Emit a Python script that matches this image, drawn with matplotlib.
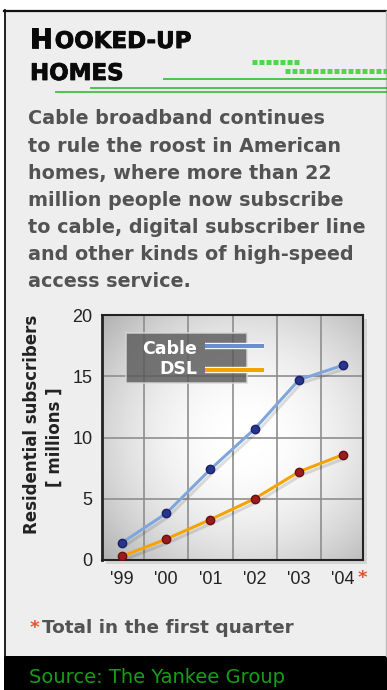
import numpy as np
import matplotlib
matplotlib.use("Agg")
import matplotlib.pyplot as plt
from matplotlib.patches import Rectangle
import matplotlib.patheffects as pe

years = ["'99", "'00", "'01", "'02", "'03", "'04"]
cable = [1.4, 3.8, 7.4, 10.7, 14.7, 15.9]
dsl = [0.3, 1.7, 3.3, 5.0, 7.2, 8.6]
y_ticks = [0, 5, 10, 15, 20]
series_names = ["Cable", "DSL"]

body = ["Cable broadband continues",
        "to rule the roost in American",
        "homes, where more than 22",
        "million people now subscribe",
        "to cable, digital subscriber line",
        "and other kinds of high-speed",
        "access service."]

W, H = 387, 690
fig = plt.figure(figsize=(W / 100, H / 100), dpi=100)
fig.patch.set_facecolor("white")

# full-figure overlay in pixel units (y down)
bg = fig.add_axes([0, 0, 1, 1], zorder=0)
bg.axis("off")
bg.set_xlim(0, W)
bg.set_ylim(H, 0)
bg.set_autoscale_on(False)

# panel
bg.add_patch(Rectangle((4, 10), 382, 646, facecolor="#eeeeee", edgecolor="none"))
bg.plot([4, 386], [10.5, 10.5], color="#111111", lw=1.6)
bg.plot([4.7, 4.7], [10, 656], color="#111111", lw=1.3)
bg.plot([386, 386], [11, 656], color="#bdbdbd", lw=1.0)
bg.add_patch(Rectangle((4, 656), 383, 34, facecolor="black", edgecolor="none"))

# title (slightly heavier via thin stroke)
heavy = [pe.withStroke(linewidth=0.6, foreground="#0a0a0a")]
r = fig.canvas.get_renderer()
t = bg.text(30, 48, "H", fontsize=19.5, fontweight="bold", color="#0a0a0a",
            va="baseline", path_effects=heavy)
bb = t.get_window_extent(renderer=r)
bg.text(bb.x1 + 2, 48, "OOKED-UP", fontsize=16.5, fontweight="bold", color="#0a0a0a",
        va="baseline", path_effects=heavy)
bg.text(30, 80, "HOMES", fontsize=16.5, fontweight="bold", color="#0a0a0a",
        va="baseline", path_effects=heavy)

# green decorations
green = "#22b822"
for y, x0 in [(78.5, 163), (87.5, 90), (91.5, 55)]:
    bg.plot([x0, 387], [y, y], color=green, lw=1.1, solid_capstyle="butt")
for y, x0, x1 in [(62, 252, 301), (71, 285, 387)]:
    bg.plot([x0, x1], [y, y], color="#4fd64f", lw=3.6, linestyle=(0, (1, 0.4)),
            dash_capstyle="butt")

# body copy
for i, line in enumerate(body):
    bg.text(28, 124.5 + 27.1 * i, line, fontsize=13.8, fontweight="bold",
            color="#535353", va="baseline")

# chart shadow
bg.add_patch(Rectangle((106, 319), 261, 245, facecolor="#d4d4d4", edgecolor="none"))

# y label
bg.text(32, 424, "Residential subscribers", rotation=90, ha="center", va="center",
        fontsize=12, fontweight="bold", color="#222222")
bg.text(55, 437, "[ millions ]", rotation=90, ha="center", va="center",
        fontsize=12, fontweight="bold", color="#222222")

# footnote & source
bg.text(362, 583, "*", ha="center", va="baseline", fontsize=13, fontweight="bold", color="#e0552b")
bg.text(30, 633, "*", va="baseline", fontsize=13.3, fontweight="bold", color="#e0552b")
bg.text(42, 633, "Total in the first quarter", va="baseline", fontsize=13.3,
        fontweight="bold", color="#535353")
bg.text(29, 683, "Source: The Yankee Group", va="baseline", fontsize=14, color="#14a014")

# chart
ax = fig.add_axes([102 / W, 1 - 560 / H, 261 / W, 245 / H], zorder=1)
x = np.arange(len(years))

gy, gx = np.mgrid[0:1:200j, 0:1:200j]
r2 = ((gx - 0.55) / 0.75) ** 2 + ((gy - 0.5) / 0.75) ** 2
ax.imshow(1 - 0.32 * r2, cmap="gray", vmin=0, vmax=1, extent=(0, 1, 0, 1),
          transform=ax.transAxes, aspect="auto", zorder=0, interpolation="bilinear")

ax.set_xticks(x)
ax.set_xticklabels(years)
ax.set_xticks(x[:-1] + 0.5, minor=True)
ax.set_yticks(y_ticks)
ax.grid(True, which="minor", axis="x", color="#8e8e8e", lw=1.2)
ax.grid(True, which="major", axis="y", color="#8e8e8e", lw=1.2)
ax.tick_params(which="both", length=0)
ax.tick_params(axis="y", pad=7, labelsize=13, labelcolor="#222222")
ax.tick_params(axis="x", pad=8, labelsize=13, labelcolor="#222222")
for lab in ax.get_xticklabels() + ax.get_yticklabels():
    lab.set_fontfamily(["Liberation Sans", "DejaVu Sans"])

shadow = [pe.SimpleLineShadow(offset=(1.5, -2.5), shadow_color="black", alpha=0.12), pe.Normal()]
ax.plot(x, cable, color="#7fa6dc", lw=2.2, path_effects=shadow, zorder=3)
ax.plot(x, dsl, color="#f5a300", lw=2.2, path_effects=shadow, zorder=3)
ax.plot(x, cable, ls="none", marker="o", ms=6, mfc="#27358f", mec="#1a2266", zorder=4)
ax.plot(x, dsl, ls="none", marker="o", ms=6, mfc="#9a1c1c", mec="#6a1010", zorder=4)

for s in ax.spines.values():
    s.set_color("#222222")
    s.set_linewidth(1.5)
ax.spines["left"].set_linewidth(2)

# legend box
ax.add_patch(Rectangle((126, 333), 121, 50, transform=bg.transData, facecolor="#5a5a5a",
                       alpha=0.82, edgecolor="#d8d8d8", lw=1.2, zorder=5, clip_on=False))
for name, ty, sy, col in [(series_names[0], 354, 346, "#6a8fd0"),
                          (series_names[1], 374, 370, "#f5a300")]:
    ax.text(197, ty, name, transform=bg.transData, ha="right", va="baseline", color="white",
            fontsize=12.5, fontweight="bold", zorder=6)
    ax.plot([205, 264], [sy, sy], transform=bg.transData, color=col, lw=3,
            solid_capstyle="butt", clip_on=False, zorder=6,
            path_effects=[pe.Stroke(linewidth=4.6, foreground="white"), pe.Normal()])

ax.set_xlim(-0.45, 5.45)
ax.set_ylim(0, 20)

fig.savefig("out.png", dpi=100)
